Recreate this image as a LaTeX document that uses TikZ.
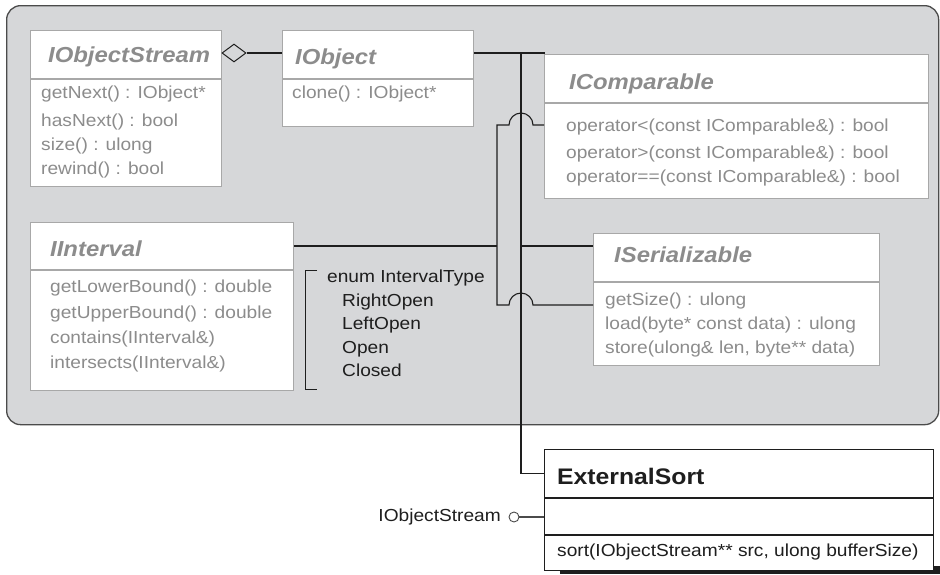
\documentclass[tikz,border=0pt]{standalone}
\usepackage{fontspec}
\setmainfont{Liberation Sans}[FakeStretch=1.1]
\usetikzlibrary{positioning,shapes.geometric}
\definecolor{pane}{HTML}{D6D7D9}
\definecolor{ifgray}{HTML}{8C8C8C}
\definecolor{boxgray}{HTML}{A8A8A8}
\definecolor{ink}{HTML}{1E1E1E}

\begin{document}
\begin{tikzpicture}[%
    x=1pt,
    y=-1pt,
    box/.style={%
      draw=boxgray,
      fill=white,
      line width=0.9pt,
      inner sep=0pt,
      anchor=north west
    },
    cbox/.style={box,draw=ink,line width=1pt},
    ttl/.style={%
      anchor=base west,
      inner sep=0pt,
      text=ifgray,
      font=\fontsize{21.7}{26}\selectfont\bfseries\itshape
    },
    mem/.style={%
      anchor=base west,
      inner sep=0pt,
      text=ifgray,
      font=\fontsize{17.4}{21}\selectfont
    },
    txt/.style={mem,text=ink},
    wire/.style={draw=ink,line width=1.1pt}
  ]
    \useasboundingbox (0,0) rectangle (940,574);

    % package pane
    \node[draw=ink!80,fill=pane,line width=1.3pt,rounded corners=14pt,
          minimum width=932,minimum height=419,inner sep=0pt,
          anchor=north west] (pane) at (6,5) {};

    % connectors
    \coordinate (trunk) at (521,53);
    \coordinate (bustop) at (497,125);
    \coordinate (busbot) at (497,305);
    \coordinate (hopa) at (533,125);
    \coordinate (hopb) at (509,305);
    \coordinate (cmpjoin) at (544,125);
    \coordinate (serjoin) at (593,305);

    % classes
    \node[box,minimum width=191,minimum height=48] (ios) at (30,30) {};
    \node[box,minimum width=191,minimum height=107] (iosb) at (ios.south west) {};
    \node[box,minimum width=191,minimum height=48] (iobj) at (282,30) {};
    \node[box,minimum width=191,minimum height=47] (iobjb) at (iobj.south west) {};
    \node[box,minimum width=384,minimum height=48] (icmp) at (544,54) {};
    \node[box,minimum width=384,minimum height=95] (icmpb) at (icmp.south west) {};
    \node[box,minimum width=263,minimum height=47] (iint) at (30,222) {};
    \node[box,minimum width=263,minimum height=120] (iintb) at (iint.south west) {};
    \node[box,minimum width=286,minimum height=48] (iser) at (593,233) {};
    \node[box,minimum width=286,minimum height=83] (iserb) at (iser.south west) {};
    \fill[ink] (560,566) rectangle (940,574);
    \node[cbox,minimum width=389,minimum height=48] (ext) at (544,449) {};
    \node[cbox,minimum width=389,minimum height=36] (extm) at (ext.south west) {};
    \node[cbox,minimum width=389,minimum height=35] (exto) at (extm.south west) {};

    \node[diamond,draw=ink,line width=1pt,inner sep=0pt,
          minimum width=24,minimum height=18] (agg) at (234,53) {};
    \node[circle,draw=ink!80,line width=0.9pt,inner sep=0pt,
          minimum size=10] (lolli) at (514,517) {};

    \draw[wire] (agg.east) -- (agg.east -| iobj.west);
    \draw[wire] (iobj.east |- agg) -- (trunk) -- (trunk -| icmp.west) -- (icmp.north west);
    \draw[wire] (trunk) |- (ext.west);
    \draw[wire] (iint.east) -- (iint.east -| bustop);
    \draw[wire] (trunk |- iint.east) -- (iint.east -| iser.west);
    \draw[wire] (cmpjoin) -- (hopa) arc[start angle=0,end angle=180,radius=12pt]
          -- (bustop) -- (busbot) -- (hopb)
          arc[start angle=180,end angle=0,radius=12pt] -- (serjoin);
    \draw[wire,draw=ink!80] (lolli.east) -- (lolli -| extm.west);

    % titles
    \node[ttl] (iost) at (48,62) {IObjectStream};
    \node[ttl] (iobjt) at (295,64) {IObject};
    \node[ttl] (icmpt) at (569,89) {IComparable};
    \node[ttl] (iintt) at (50,256) {IInterval};
    \node[ttl] (isert) at (614,262) {ISerializable};
    \node[ttl,text=ink,font=\fontsize{22.5}{26}\selectfont\bfseries] (extt) at (557,484) {ExternalSort};

    % members
    \foreach \y/\t [count=\i] in {98/getNext() : IObject*, 126/hasNext() : bool,
                                  150/size() : ulong, 174/rewind() : bool}
      \node[mem] (iosm\i) at (41,\y) {\t};
    \node[mem] (iobjm) at (292,98) {clone() : IObject*};
    \foreach \y/\t [count=\i] in {131/operator<(const IComparable\&) : bool,
                                  158/operator>(const IComparable\&) : bool,
                                  182/operator==(const IComparable\&) : bool}
      \node[mem] (icmpm\i) at (566,\y) {\t};
    \foreach \y/\t [count=\i] in {292/getLowerBound() : double, 318/getUpperBound() : double,
                                  343/contains(IInterval\&), 368/intersects(IInterval\&)}
      \node[mem] (iintm\i) at (50,\y) {\t};
    \foreach \y/\t [count=\i] in {305/getSize() : ulong, 329/load(byte* const data) : ulong,
                                  353/{store(ulong\& len, byte** data)}}
      \node[mem] (iserm\i) at (605,\y) {\t};
    \node[txt] (extop) at (557,556) {sort(IObjectStream** src, ulong bufferSize)};

    % enum
    \coordinate (enumtop) at (305,270);
    \coordinate (enumbot) at (305,389);
    \draw[wire,line width=1pt] (317,270) -- (enumtop) -- (enumbot) -- (317,389);
    \node[txt] (enumt) at (327,282) {enum IntervalType};
    \foreach \y/\t [count=\i] in {306/RightOpen, 329/LeftOpen, 353/Open, 376/Closed}
      \node[txt] (enum\i) at (342,\y) {\t};

    \node[txt,anchor=base east] (lollit) at (501,521) {IObjectStream};
  \end{tikzpicture}
\end{document}
